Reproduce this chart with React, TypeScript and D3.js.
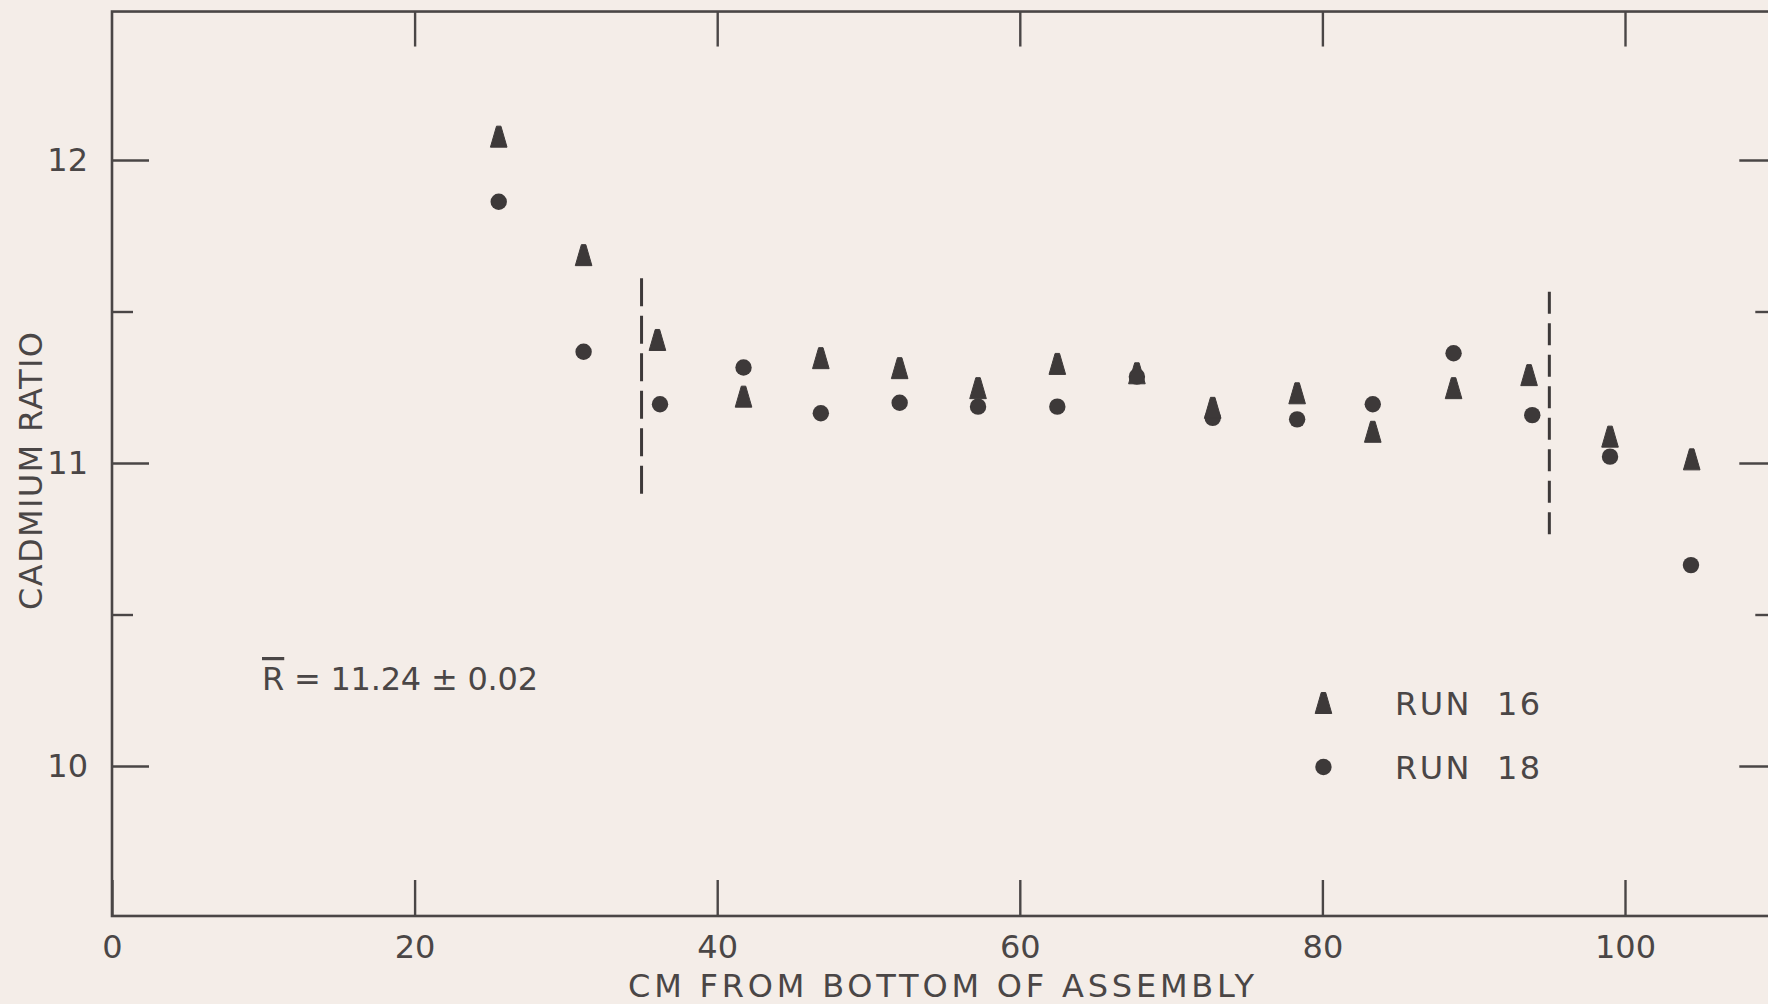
import React, { useEffect, useRef } from "react";
import * as d3 from "d3";

// cadmium ratio along the assembly, two runs
const run16Cm = [25.56, 31.17, 36.05, 41.74, 46.85, 52.06, 57.24, 62.48, 67.74, 72.75, 78.33, 83.33, 88.67, 93.66, 99.01, 104.41];
const run16Ratio = [12.077, 11.686, 11.406, 11.219, 11.346, 11.313, 11.247, 11.327, 11.296, 11.182, 11.23, 11.103, 11.247, 11.29, 11.087, 11.012];
const run18Cm = [25.56, 31.17, 36.22, 41.74, 46.85, 52.06, 57.24, 62.48, 67.74, 72.75, 78.33, 83.33, 88.67, 93.87, 99.01, 104.36];
const run18Ratio = [11.862, 11.367, 11.194, 11.315, 11.164, 11.199, 11.186, 11.186, 11.285, 11.149, 11.144, 11.194, 11.362, 11.158, 11.021, 10.663];

// dashed boundaries of the averaged region
const boundaryCm = [35, 95];
const boundaryTop = [11.61, 11.565];
const boundaryBottom = [10.888, 10.746];

const xTickValues = [0, 20, 40, 60, 80, 100];
const yMajorTicks = [10, 11, 12];
const yMinorTicks = [10.5, 11.5];
const xExtent = [0, 110];
const yExtent = [9.505, 12.49];

const legendItems = ["RUN  16", "RUN  18"];
const meanLabel = ["R", " = 11.24 ± 0.02"];

const W = 1768;
const H = 1004;
const INK = "#3d3939";
const LINE = "#4a4646";
const PAPER = "#f4ede8";
const FONT = "'DejaVu Sans', 'Open Sans', sans-serif";
const FS = 32;

const x = d3.scaleLinear().domain([0, 100]).range([112, 1625]);
const y = d3.scaleLinear().domain([10, 12]).range([766, 160]);

const triangle = "M-2.2,-10.5 L2.2,-10.5 L8.3,10.5 L-8.3,10.5 Z";

export default function App() {
  const axes = useRef<SVGGElement>(null);

  useEffect(() => {
    const g = d3.select(axes.current);
    g.selectAll("*").remove();
    const left = x(xExtent[0]);
    const right = x(xExtent[1]);
    const top = y(yExtent[1]);
    const bottom = y(yExtent[0]);

    const style = (sel: any) => {
      sel.select(".domain").remove();
      sel.selectAll("line").attr("stroke", LINE).attr("stroke-width", 2.4);
      sel
        .selectAll("text")
        .attr("fill", LINE)
        .style("font-family", FONT)
        .style("font-size", FS + "px");
    };

    g.append("g")
      .attr("transform", `translate(0,${bottom})`)
      .call(d3.axisBottom(x).tickValues(xTickValues).tickSizeInner(-36).tickSizeOuter(0).tickPadding(19).tickFormat(d3.format("d")))
      .call(style);
    g.append("g")
      .attr("transform", `translate(0,${top})`)
      .call(d3.axisTop(x).tickValues(xTickValues.slice(1)).tickSizeInner(-35).tickSizeOuter(0).tickFormat(() => ""))
      .call(style);
    g.append("g")
      .attr("transform", `translate(${left},0)`)
      .call(d3.axisLeft(y).tickValues(yMajorTicks).tickSizeInner(-37).tickSizeOuter(0).tickPadding(24).tickFormat(d3.format("d")))
      .call(style);
    g.append("g")
      .attr("transform", `translate(${left},0)`)
      .call(d3.axisLeft(y).tickValues(yMinorTicks).tickSizeInner(-21).tickSizeOuter(0).tickFormat(() => ""))
      .call(style);
    g.append("g")
      .attr("transform", `translate(${right},0)`)
      .call(d3.axisRight(y).tickValues(yMajorTicks).tickSizeInner(-37).tickSizeOuter(0).tickFormat(() => ""))
      .call(style);
    g.append("g")
      .attr("transform", `translate(${right},0)`)
      .call(d3.axisRight(y).tickValues(yMinorTicks).tickSizeInner(-21).tickSizeOuter(0).tickFormat(() => ""))
      .call(style);

    g.append("rect")
      .attr("x", left)
      .attr("y", top)
      .attr("width", right - left)
      .attr("height", bottom - top)
      .attr("fill", "none")
      .attr("stroke", LINE)
      .attr("stroke-width", 2.6);
  }, []);

  const legendX = x(80.07);

  return (
    <svg width={W} height={H} style={{ position: "absolute", left: 0, top: 0 }}>
      <rect width={W} height={H} fill={PAPER} />
      <g ref={axes} />

      {boundaryCm.map((c, i) => (
        <line
          key={c}
          x1={x(c)}
          x2={x(c)}
          y1={y(boundaryTop[i])}
          y2={y(boundaryBottom[i])}
          stroke={INK}
          strokeWidth={3}
          strokeDasharray={i === 0 ? "28 9.5" : "22 9.5"}
        />
      ))}

      {run18Cm.map((c, i) => (
        <circle key={"c" + i} cx={x(c)} cy={y(run18Ratio[i])} r={8.2} fill={INK} />
      ))}
      {run16Cm.map((c, i) => (
        <path key={"t" + i} d={triangle} transform={`translate(${x(c)},${y(run16Ratio[i])})`} fill={INK} stroke={INK} strokeWidth={1} strokeLinejoin="round" />
      ))}

      <text
        transform="translate(42,471) rotate(-90)"
        textAnchor="middle"
        fill={LINE}
        style={{ fontFamily: FONT, fontSize: FS }}
        textLength={278}
        lengthAdjust="spacing"
      >
        CADMIUM RATIO
      </text>

      <text
        x={941}
        y={997}
        textAnchor="middle"
        fill={LINE}
        style={{ fontFamily: FONT, fontSize: FS }}
        textLength={626}
        lengthAdjust="spacing"
      >
        CM FROM BOTTOM OF ASSEMBLY
      </text>

      <text x={262} y={690} fill={LINE} style={{ fontFamily: FONT, fontSize: FS }} textLength={276} lengthAdjust="spacing">
        <tspan textDecoration="overline" style={{ textDecoration: "overline" }}>{meanLabel[0]}</tspan>
        <tspan>{meanLabel[1]}</tspan>
      </text>

      {legendItems.map((label, i) => {
        const ly = 703 + i * 64;
        return (
          <g key={label}>
            {i === 0 ? (
              <path d={triangle} transform={`translate(${legendX},${ly})`} fill={INK} stroke={INK} strokeWidth={1} strokeLinejoin="round" />
            ) : (
              <circle cx={legendX} cy={ly} r={8.2} fill={INK} />
            )}
            <text
              x={1395}
              y={ly + 12}
              fill={LINE}
              style={{ fontFamily: FONT, fontSize: FS, whiteSpace: "pre" }}
              textLength={145}
              lengthAdjust="spacing"
            >
              {label}
            </text>
          </g>
        );
      })}
    </svg>
  );
}
